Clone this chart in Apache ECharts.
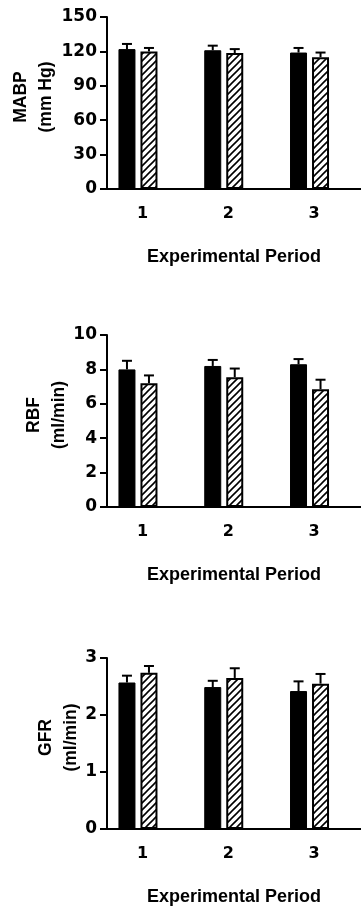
<!DOCTYPE html>
<html>
<head>
<meta charset="utf-8">
<style>
  html, body { margin: 0; padding: 0; background: #fff; }
  #chart { width: 361px; height: 907px; }
</style>
<script src="https://cdn.jsdelivr.net/npm/echarts@6/dist/echarts.min.js"></script>
</head>
<body>
<div id="chart"></div>
<script>
// experimental periods (x positions) and their labels
const periods = [1, 2, 3];
const periodLabels = ['1', '2', '3'];

// MABP (mm Hg)
const mabpSolid = [122, 121, 119];
const mabpSolidErr = [4.5, 4, 4];
const mabpHatch = [120, 118.5, 115];
const mabpHatchErr = [3, 3.5, 4];

// RBF (ml/min)
const rbfSolid = [8.0, 8.2, 8.3];
const rbfSolidErr = [0.5, 0.35, 0.3];
const rbfHatch = [7.2, 7.55, 6.85];
const rbfHatchErr = [0.45, 0.5, 0.55];

// GFR (ml/min)
const gfrSolid = [2.57, 2.49, 2.42];
const gfrSolidErr = [0.12, 0.11, 0.17];
const gfrHatch = [2.74, 2.65, 2.55];
const gfrHatchErr = [0.12, 0.17, 0.17];

// y axis ticks
const mabpTicks = { max: 150, interval: 30 };
const rbfTicks = { max: 10, interval: 2 };
const gfrTicks = { max: 3, interval: 1 };

const FONT = 'Liberation Sans';
const NUM_FONT = 'DejaVu Sans';
const BAR_W = 17;
const BAR_GAP = 5;
const HALF = (BAR_W + BAR_GAP) / 2;

// diagonal hatch pattern
function hatchPattern() {
  const s = 7;
  const c = document.createElement('canvas');
  c.width = s; c.height = s;
  const ctx = c.getContext('2d');
  ctx.fillStyle = '#fff';
  ctx.fillRect(0, 0, s, s);
  ctx.strokeStyle = '#000';
  ctx.lineWidth = 1.6;
  ctx.beginPath();
  ctx.moveTo(0, s); ctx.lineTo(s, 0);
  ctx.moveTo(-2, 2); ctx.lineTo(2, -2);
  ctx.moveTo(s - 2, s + 2); ctx.lineTo(s + 2, s - 2);
  ctx.stroke();
  return { image: c, repeat: 'repeat' };
}
const hatch = hatchPattern();

const panels = [
  { name: 'MABP\n(mm Hg)', ticks: mabpTicks, top: 17, height: 172, nameGap: 48,
    solid: mabpSolid, solidErr: mabpSolidErr, hatch: mabpHatch, hatchErr: mabpHatchErr },
  { name: 'RBF\n(ml/min)', ticks: rbfTicks, top: 335, height: 172, nameGap: 35,
    solid: rbfSolid, solidErr: rbfSolidErr, hatch: rbfHatch, hatchErr: rbfHatchErr },
  { name: 'GFR\n(ml/min)', ticks: gfrTicks, top: 658, height: 171, nameGap: 23,
    solid: gfrSolid, solidErr: gfrSolidErr, hatch: gfrHatch, hatchErr: gfrHatchErr }
];

function errRender(offset) {
  return function (params, api) {
    const base = api.coord([api.value(0), api.value(1)]);
    const top = api.coord([api.value(0), api.value(1) + api.value(2)]);
    const x = base[0] + offset;
    return {
      type: 'group',
      children: [
        { type: 'line', shape: { x1: x, y1: base[1], x2: x, y2: top[1] },
          style: { stroke: '#000', lineWidth: 2 } },
        { type: 'line', shape: { x1: x - 5, y1: top[1], x2: x + 5, y2: top[1] },
          style: { stroke: '#000', lineWidth: 2 } }
      ]
    };
  };
}

const grid = [], xAxis = [], yAxis = [], series = [];

panels.forEach((p, i) => {
  grid.push({ left: 107, right: 0, top: p.top, height: p.height,
    containLabel: false, outerBoundsMode: 'none' });
  xAxis.push({
    type: 'value', gridIndex: i, min: 0.639, max: 3.6,
    name: 'Experimental Period', nameLocation: 'middle', nameGap: 59,
    nameMoveOverlap: false,
    nameTextStyle: { fontFamily: FONT, fontWeight: 'bold', fontSize: 18, color: '#000' },
    axisLine: { show: true, lineStyle: { color: '#000', width: 2 } },
    axisTick: { show: false },
    splitLine: { show: false },
    axisLabel: {
      customValues: periods,
      formatter: v => periodLabels[periods.indexOf(v)],
      margin: 17, padding: [0, 0, 0, 9],
      fontFamily: NUM_FONT, fontWeight: 'bold', fontSize: 16, color: '#000'
    }
  });
  yAxis.push({
    type: 'value', gridIndex: i, min: 0, max: p.ticks.max, interval: p.ticks.interval,
    name: p.name, nameLocation: 'middle', nameGap: p.nameGap, nameRotate: 90,
    nameMoveOverlap: false,
    nameTextStyle: { fontFamily: FONT, fontWeight: 'bold', fontSize: 17.5, color: '#000',
      lineHeight: 25, padding: [0, 0, 0, 12] },
    axisLine: { show: true, lineStyle: { color: '#000', width: 2 } },
    axisTick: { show: true, length: 7, lineStyle: { color: '#000', width: 2 } },
    splitLine: { show: false },
    axisLabel: { margin: 10, fontFamily: NUM_FONT, fontWeight: 'bold', fontSize: 17, color: '#000' }
  });

  series.push({
    type: 'bar', xAxisIndex: i, yAxisIndex: i,
    barWidth: BAR_W, barGap: (BAR_GAP / BAR_W * 100) + '%',
    itemStyle: { color: '#000', borderColor: '#000', borderWidth: 1 },
    data: periods.map((x, k) => [x, p.solid[k]])
  });
  series.push({
    type: 'bar', xAxisIndex: i, yAxisIndex: i,
    barWidth: BAR_W, barGap: (BAR_GAP / BAR_W * 100) + '%',
    itemStyle: { color: hatch, borderColor: '#000', borderWidth: 2 },
    data: periods.map((x, k) => [x, p.hatch[k]])
  });
  series.push({
    type: 'custom', xAxisIndex: i, yAxisIndex: i, z: 5,
    renderItem: errRender(-HALF),
    data: periods.map((x, k) => [x, p.solid[k], p.solidErr[k]])
  });
  series.push({
    type: 'custom', xAxisIndex: i, yAxisIndex: i, z: 5,
    renderItem: errRender(HALF),
    data: periods.map((x, k) => [x, p.hatch[k], p.hatchErr[k]])
  });
});

const chart = echarts.init(document.getElementById('chart'));
chart.setOption({
  animation: false,
  backgroundColor: '#fff',
  grid, xAxis, yAxis, series
});
</script>
</body>
</html>
